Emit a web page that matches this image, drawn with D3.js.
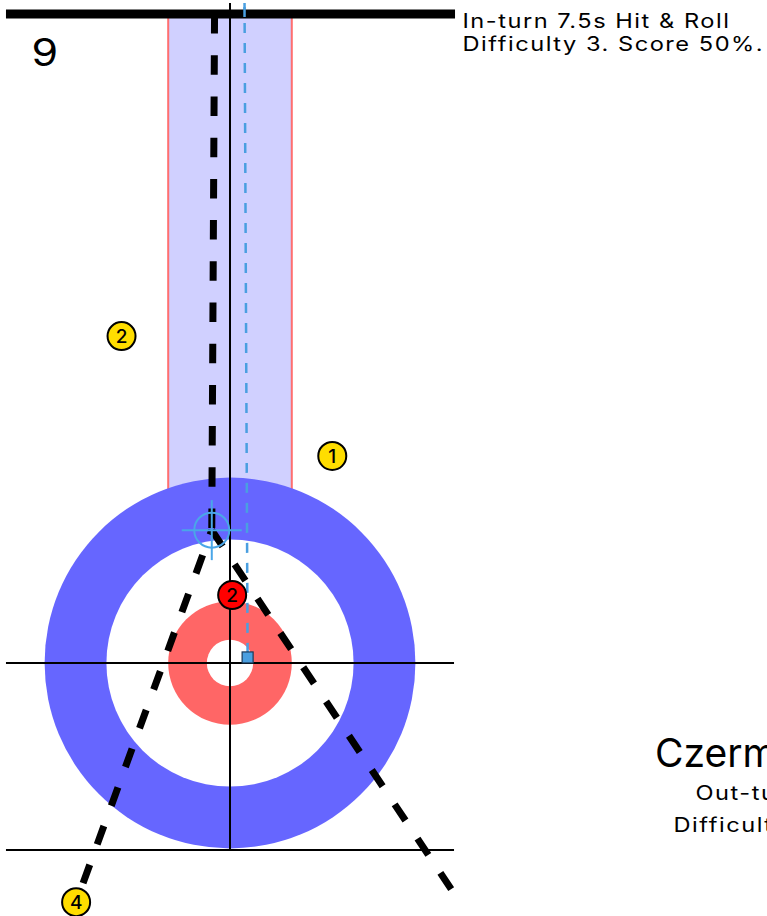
<!DOCTYPE html>
<html>
<head>
<meta charset="utf-8">
<script src="https://cdn.jsdelivr.net/npm/d3@7"></script>
<style>
  html, body { margin: 0; padding: 0; background: #fff; overflow: hidden; }
  svg { display: block; font-family: Inter, "Noto Sans", sans-serif; }
</style>
</head>
<body>
<svg id="chart" width="767" height="916"></svg>
<script>
// ---- data (feet; x from centre line, y from tee line, positive toward back line) ----
const sheetX = [-7.25, 7.25];          // sheet side lines
const hogY = -21;                      // hog line
const teeY = 0;                        // tee line
const backY = 6;                       // back line
const ringRadii = [6, 4, 2, 0.75];     // house rings
const ringColors = ["#6666ff", "#ffffff", "#ff6666", "#ffffff"];
const corridorHalfWidth = 2;           // shaded target corridor

const stoneTeams = ["yellow", "yellow", "red", "yellow"];
const stoneNumbers = ["2", "1", "2", "4"];
const stoneX = [-3.51, 3.31, 0.07, -4.98];
const stoneY = [-10.58, -6.70, -2.20, 7.74];

const aimPoint = [-0.59, -4.30];       // blue crosshair
const broomX = [0.47, 0.57];           // blue dashed line (top, bottom)
const broomY = [-21.46, -0.18];
const deliveryPath = [[-0.50, -21.0], [-0.59, -4.30]];
const rollPath = [[-0.59, -4.30], [7.18, 7.35]];
const hitPath = [[-0.59, -4.30], [-4.98, 7.74]];

const endLabel = "9";
const shotLines = ["In-turn 7.5s Hit & Roll", "Difficulty 3. Score 50%."];
const otherTitle = "Czermak";
const otherLines = ["Out-turn 7.5s Hit & Roll", "Difficulty 3. Score 50%."];

// ---- scales ----
const pxPerFt = 30.9;
const x = d3.scaleLinear().domain([0, 1]).range([230, 230 + pxPerFt]);
const y = d3.scaleLinear().domain([0, 1]).range([663, 663 + pxPerFt]);
const r = v => v * pxPerFt;

const svg = d3.select("#chart");

// corridor band
svg.append("rect")
  .attr("x", x(-corridorHalfWidth)).attr("y", y(hogY))
  .attr("width", x(corridorHalfWidth) - x(-corridorHalfWidth))
  .attr("height", y(-3) - y(hogY))
  .attr("fill", "#d0d0ff");
[-corridorHalfWidth, corridorHalfWidth].forEach(v => {
  svg.append("line")
    .attr("x1", x(v)).attr("x2", x(v))
    .attr("y1", y(hogY)).attr("y2", y(-3))
    .attr("stroke", "#ff6f6f").attr("stroke-width", 2);
});

// house
svg.selectAll("circle.ring").data(ringRadii).join("circle")
  .attr("class", "ring")
  .attr("cx", x(0)).attr("cy", y(teeY))
  .attr("r", d => r(d))
  .attr("fill", (d, i) => ringColors[i]);

// lines
const lineG = svg.append("g").attr("stroke", "#000").attr("stroke-width", 2);
lineG.append("line").attr("x1", x(sheetX[0])).attr("x2", x(sheetX[1]))
  .attr("y1", y(teeY)).attr("y2", y(teeY));
lineG.append("line").attr("x1", x(sheetX[0])).attr("x2", x(sheetX[1]))
  .attr("y1", y(backY) + 1.5).attr("y2", y(backY) + 1.5);
lineG.append("line").attr("x1", x(0)).attr("x2", x(0))
  .attr("y1", 3).attr("y2", y(backY) + 1.5);

// broom line (blue dashed)
svg.append("line")
  .attr("x1", x(broomX[0])).attr("y1", y(broomY[0]))
  .attr("x2", x(broomX[1])).attr("y2", y(broomY[1]))
  .attr("stroke", "#4a9fe0").attr("stroke-width", 2.5)
  .attr("stroke-dasharray", "10,10").attr("stroke-dashoffset", -3);

// black dashed paths
const line = d3.line().x(d => x(d[0])).y(d => y(d[1]));
const dash = "19.5,21.7";
svg.append("path").attr("d", line(deliveryPath))
  .attr("fill", "none").attr("stroke", "#000").attr("stroke-width", 7)
  .attr("stroke-dasharray", dash);
svg.append("path").attr("d", line(rollPath))
  .attr("fill", "none").attr("stroke", "#000").attr("stroke-width", 7)
  .attr("stroke-dasharray", dash);
svg.append("path").attr("d", line(hitPath))
  .attr("fill", "none").attr("stroke", "#000").attr("stroke-width", 7)
  .attr("stroke-dasharray", dash).attr("stroke-dashoffset", 14.6);

// hog line (drawn over path start)
svg.append("line").attr("x1", x(sheetX[0])).attr("x2", x(sheetX[1]) + 1)
  .attr("y1", y(hogY)).attr("y2", y(hogY))
  .attr("stroke", "#000").attr("stroke-width", 9);

// broom line top dash visible over hog line
svg.append("line")
  .attr("x1", x(broomX[0])).attr("y1", 7)
  .attr("x2", x(broomX[0])).attr("y2", 17)
  .attr("stroke", "#4a9fe0").attr("stroke-width", 2.5);

// broom target square
svg.append("rect")
  .attr("x", x(broomX[1]) - 5.5).attr("y", y(broomY[1]) - 5.5)
  .attr("width", 11).attr("height", 11)
  .attr("fill", "#4a9fe0").attr("stroke", "#1a3a5a").attr("stroke-width", 1.2);

// aim crosshair
const cx = x(aimPoint[0]), cy = y(aimPoint[1]);
const ch = svg.append("g").attr("stroke", "#4aa6e8").attr("stroke-width", 2).attr("fill", "none");
ch.append("circle").attr("cx", cx).attr("cy", cy).attr("r", 17.5);
ch.append("line").attr("x1", cx - 30).attr("x2", cx + 30).attr("y1", cy).attr("y2", cy);
ch.append("line").attr("x1", cx).attr("x2", cx).attr("y1", cy - 30).attr("y2", cy + 30);

// stones
const stones = stoneX.map((v, i) => ({x: v, y: stoneY[i], team: stoneTeams[i], n: stoneNumbers[i]}));
const sg = svg.selectAll("g.stone").data(stones).join("g").attr("class", "stone")
  .attr("transform", d => `translate(${x(d.x)},${y(d.y)})`);
sg.append("circle").attr("r", 14)
  .attr("fill", d => d.team === "red" ? "#ff0000" : "#ffdd00")
  .attr("stroke", "#000").attr("stroke-width", 2);
sg.append("text").text(d => d.n)
  .attr("text-anchor", "middle").attr("dy", "0.36em")
  .attr("font-size", 19).attr("font-weight", 500).attr("fill", "#000");

// texts (slightly widened glyphs, as in the reference)
const SX = 1.18;
function wideText(str, tx, ty, size, ls) {
  svg.append("g").attr("transform", `translate(${tx},${ty}) scale(${SX},1)`)
    .append("text").text(str)
    .attr("font-size", size).attr("letter-spacing", ls).attr("fill", "#000");
}
svg.append("g").attr("transform", "translate(31.5,66) scale(1.13,1)")
  .append("text").text(endLabel).attr("font-size", 38).attr("fill", "#000");
shotLines.forEach((s, i) => wideText(s, 462.5, 27.5 + i * 23.5, 20, 1.3));
svg.append("text").text(otherTitle).attr("x", 655).attr("y", 767)
  .attr("font-size", 39).attr("fill", "#000");
otherLines.forEach((s, i) => wideText(s, i === 0 ? 695.5 : 673.5, 800 + i * 32, 20, 1.3));
</script>
</body>
</html>
